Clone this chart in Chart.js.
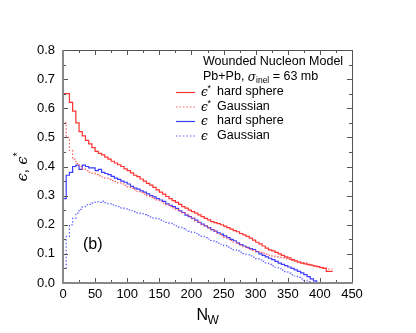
<!DOCTYPE html>
<html>
<head>
<meta charset="utf-8">
<script src="https://cdn.jsdelivr.net/npm/chart.js@4/dist/chart.umd.min.js"></script>
<style>
  body { margin: 0; background: #fff; }
  #wrap { width: 416px; height: 333px; }
</style>
</head>
<body>
<div id="wrap"><canvas id="eps-nw" width="416" height="333"></canvas></div>
<script>
// lower edges of the N_W bins (width 5)
var nwBins = [0,5,10,15,20,25,30,35,40,45,50,55,60,65,70,75,80,85,90,95,
  100,105,110,115,120,125,130,135,140,145,150,155,160,165,170,175,180,185,190,195,
  200,205,210,215,220,225,230,235,240,245,250,255,260,265,270,275,280,285,290,295,
  300,305,310,315,320,325,330,335,340,345,350,355,360,365,370,375,380,385,390,395,
  400,405,410,415];
var binWidth = 5;

// eps* hard sphere
var epsStarHard = [0.58,0.65,0.65,0.62,0.59,0.55,0.52,0.505,0.49,0.478,0.465,0.452,0.445,0.44,0.432,0.425,0.418,0.412,0.406,0.40,
  0.392,0.386,0.378,0.37,0.365,0.357,0.35,0.342,0.336,0.328,0.32,0.312,0.305,0.297,0.29,0.283,0.277,0.27,0.262,0.257,
  0.25,0.245,0.24,0.234,0.228,0.222,0.217,0.211,0.207,0.204,0.2,0.195,0.19,0.185,0.18,0.176,0.17,0.165,0.16,0.154,
  0.147,0.14,0.134,0.127,0.12,0.114,0.11,0.105,0.1,0.095,0.09,0.086,0.08,0.076,0.072,0.068,0.066,0.063,0.061,0.058,
  0.056,0.053,0.05,0.04];
// eps* Gaussian
var epsStarGauss = [0.58,0.55,0.50,0.455,0.425,0.41,0.40,0.392,0.386,0.38,0.377,0.372,0.368,0.364,0.36,0.356,0.352,0.348,0.344,0.34,
  0.335,0.33,0.325,0.32,0.315,0.31,0.305,0.3,0.295,0.29,0.285,0.279,0.274,0.268,0.263,0.258,0.252,0.247,0.241,0.236,
  0.23,0.222,0.213,0.207,0.2,0.195,0.189,0.183,0.177,0.17,0.163,0.157,0.151,0.146,0.14,0.135,0.13,0.125,0.12,0.116,
  0.112,0.108,0.105,0.102,0.099,0.096,0.093,0.09,0.088,0.086,0.084,0.081,0.078,0.076,0.073,0.07,0.068,0.065,0.062,0.06,
  0.057,0.054,0.051,0.048];
// eps hard sphere
var epsHard = [0,0.29,0.37,0.38,0.40,0.405,0.39,0.405,0.40,0.395,0.395,0.386,0.39,0.38,0.376,0.372,0.366,0.36,0.356,0.35,
  0.346,0.34,0.332,0.326,0.322,0.316,0.312,0.306,0.3,0.296,0.29,0.285,0.28,0.272,0.267,0.262,0.256,0.248,0.242,0.233,
  0.228,0.222,0.216,0.208,0.202,0.196,0.19,0.183,0.178,0.172,0.168,0.162,0.156,0.15,0.145,0.138,0.132,0.127,0.122,0.118,
  0.115,0.108,0.1,0.095,0.09,0.085,0.08,0.074,0.068,0.064,0.06,0.055,0.05,0.045,0.04,0.035,0.029,0.022,0.014,0.007];
// eps Gaussian
var epsGauss = [0,0.05,0.16,0.2,0.222,0.24,0.253,0.262,0.268,0.27,0.274,0.279,0.277,0.281,0.276,0.272,0.268,0.265,0.262,0.258,
  0.255,0.251,0.248,0.245,0.241,0.238,0.235,0.231,0.227,0.223,0.22,0.216,0.212,0.208,0.205,0.2,0.196,0.191,0.187,0.182,
  0.178,0.174,0.17,0.165,0.16,0.156,0.151,0.146,0.141,0.137,0.133,0.128,0.123,0.119,0.114,0.11,0.106,0.101,0.097,0.093,
  0.089,0.084,0.079,0.074,0.069,0.064,0.059,0.054,0.049,0.044,0.039,0.034,0.029,0.024,0.019,0.014,0.009,0.004];

var xTicks = [0,50,100,150,200,250,300,350,400,450];
var yTicks = [0,0.1,0.2,0.3,0.4,0.5,0.6,0.7,0.8];

var legendSym = ['\u03F5', '\u03F5', '\u03F5', '\u03F5'];
var legendStar = [true, true, false, false];
var legendText = ['hard sphere', 'Gaussian', 'hard sphere', 'Gaussian'];

var SANS = "'Liberation Sans', Arial, sans-serif";
var SERIF = "'DejaVu Serif', serif";

// histogram as step points; the last bin is closed with its upper edge
function histPoints(vals, lastVal) {
    var pts = [];
    for (var i = 0; i < vals.length; i++) pts.push({x: nwBins[i], y: vals[i]});
    pts.push({x: nwBins[vals.length - 1] + binWidth, y: lastVal === undefined ? vals[vals.length - 1] : lastVal});
    return pts;
}

function histSet(vals, color, dash, lastVal) {
    return {
        data: histPoints(vals, lastVal),
        borderColor: color,
        borderWidth: 1.2,
        borderDash: dash,
        stepped: 'after',
        pointRadius: 0,
        fill: false
    };
}

var frameAndText = {
    id: 'frameAndText',
    afterDraw: function(chart) {
        var ctx = chart.ctx, a = chart.chartArea;
        var sx = chart.scales.x, sy = chart.scales.y;
        ctx.save();

        // inward ticks on all four sides
        ctx.strokeStyle = '#555';
        ctx.lineWidth = 1;
        ctx.beginPath();
        for (var i = 0; i <= 18; i++) {
            var px = Math.round(sx.getPixelForValue(i * 25)) + 0.5;
            var len = i % 2 === 0 ? 5 : 3;
            ctx.moveTo(px, a.bottom); ctx.lineTo(px, a.bottom - len);
            ctx.moveTo(px, a.top); ctx.lineTo(px, a.top + len);
        }
        for (var j = 0; j <= 16; j++) {
            var py = Math.round(sy.getPixelForValue(j * 0.05)) + 0.5;
            var l2 = j % 2 === 0 ? 5 : 3;
            ctx.moveTo(a.left, py); ctx.lineTo(a.left + l2, py);
            ctx.moveTo(a.right, py); ctx.lineTo(a.right - l2, py);
        }
        ctx.stroke();

        // frame
        ctx.strokeStyle = '#555';
        ctx.beginPath();
        ctx.moveTo(a.left, a.top + 0.5); ctx.lineTo(a.right + 0.5, a.top + 0.5);
        ctx.lineTo(a.right + 0.5, a.bottom);
        ctx.stroke();
        ctx.strokeStyle = '#888';
        ctx.lineWidth = 2;
        ctx.beginPath();
        ctx.moveTo(a.left, a.top); ctx.lineTo(a.left, a.bottom); ctx.lineTo(a.right + 1, a.bottom);
        ctx.stroke();

        // legend header
        ctx.fillStyle = '#000';
        ctx.textBaseline = 'middle';
        ctx.textAlign = 'left';
        ctx.font = '12.5px ' + SANS;
        ctx.fillText('Wounded Nucleon Model', 203, 62);
        var x = 203;
        ctx.fillText('Pb+Pb, ', x, 77);
        x += ctx.measureText('Pb+Pb, ').width;
        ctx.font = 'italic 12px ' + SERIF;
        ctx.fillText('\u03C3', x, 78);
        x += ctx.measureText('\u03C3').width;
        ctx.font = '8.5px ' + SANS;
        ctx.fillText('inel', x, 81);
        x += ctx.measureText('inel').width;
        ctx.font = '12.5px ' + SANS;
        ctx.fillText(' = 63 mb', x, 77);

        // legend entries
        var rows = [92, 106.5, 121, 135.5];
        chart.data.datasets.forEach(function(ds, k) {
            ctx.strokeStyle = ds.borderColor;
            ctx.lineWidth = ds.borderWidth;
            ctx.setLineDash(ds.borderDash);
            ctx.beginPath();
            ctx.moveTo(176, rows[k] + 0.5); ctx.lineTo(195, rows[k] + 0.5);
            ctx.stroke();
            ctx.setLineDash([]);
            ctx.font = 'italic 12px ' + SERIF;
            ctx.fillText(legendSym[k], 201, rows[k] + 1);
            if (legendStar[k]) {
                ctx.font = '9px ' + SANS;
                ctx.fillText('*', 207.5, rows[k] - 3);
            }
            ctx.font = '12.5px ' + SANS;
            ctx.fillText(legendText[k], 217, rows[k]);
        });

        // panel label
        ctx.font = '16px ' + SANS;
        ctx.fillText('(b)', 83, 245);

        // x title N_W
        ctx.textBaseline = 'alphabetic';
        ctx.font = '16px ' + SANS;
        ctx.fillText('N', 196.5, 320);
        ctx.font = '12px ' + SANS;
        ctx.fillText('W', 207.5, 324);

        // y title eps, eps*
        ctx.translate(27, 166);
        ctx.rotate(-Math.PI / 2);
        ctx.font = 'italic 15px ' + SERIF;
        var wE = ctx.measureText('\u03F5').width;
        ctx.font = '15px ' + SANS;
        var wC = ctx.measureText(', ').width;
        var total = wE * 2 + wC + 6;
        var tx = -total / 2;
        ctx.font = 'italic 15px ' + SERIF;
        ctx.fillText('\u03F5', tx, 0);
        tx += wE;
        ctx.font = '15px ' + SANS;
        ctx.fillText(', ', tx, 0);
        tx += wC;
        ctx.font = 'italic 15px ' + SERIF;
        ctx.fillText('\u03F5', tx, 0);
        tx += wE;
        ctx.font = '11px ' + SANS;
        ctx.fillText('*', tx, -6);

        ctx.restore();
    }
};

new Chart(document.getElementById('eps-nw'), {
    type: 'line',
    data: {
        datasets: [
            histSet(epsStarHard, 'rgb(255,50,50)', []),
            histSet(epsStarGauss, 'rgb(255,90,90)', [1.5, 2]),
            histSet(epsHard, 'rgb(60,60,255)', [], 0),
            histSet(epsGauss, 'rgb(100,100,255)', [1.5, 2], 0)
        ]
    },
    options: {
        responsive: false,
        animation: false,
        layout: { padding: { left: 0, right: 64, top: 50, bottom: 0 } },
        plugins: { legend: { display: false }, tooltip: { enabled: false } },
        scales: {
            x: {
                type: 'linear',
                min: 0,
                max: 450,
                afterBuildTicks: function(s) { s.ticks = xTicks.map(function(v) { return {value: v}; }); },
                afterFit: function(s) { s.height = 50; },
                ticks: { color: '#000', padding: 4, maxRotation: 0, font: { family: SANS, size: 13 } },
                grid: { display: false, drawTicks: false },
                border: { display: false }
            },
            y: {
                min: 0,
                max: 0.8,
                afterBuildTicks: function(s) { s.ticks = yTicks.map(function(v) { return {value: v}; }); },
                afterFit: function(s) { s.width = 63; },
                ticks: {
                    color: '#000', padding: 8, font: { family: SANS, size: 13 },
                    callback: function(v) { return Number(v).toFixed(1); }
                },
                grid: { display: false, drawTicks: false },
                border: { display: false }
            }
        }
    },
    plugins: [frameAndText]
});
</script>
</body>
</html>
